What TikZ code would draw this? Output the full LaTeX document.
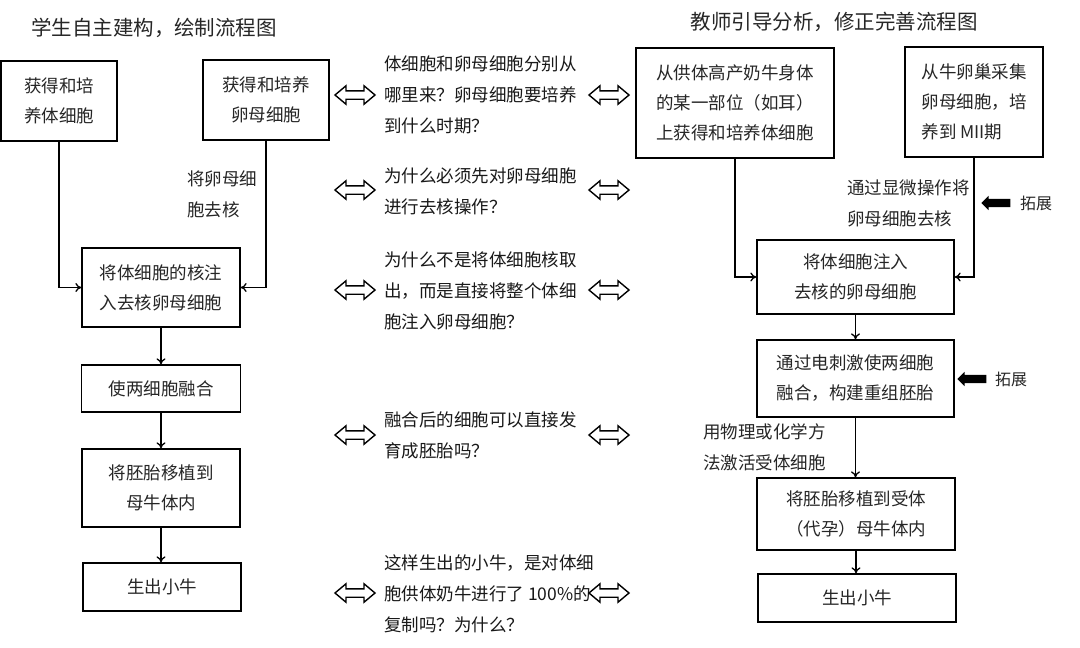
\documentclass[tikz,border=0pt]{standalone}
\usepackage{fontspec}
\setmainfont{Noto Sans CJK SC}
\usetikzlibrary{arrows.meta,shapes.arrows}
\begin{document}
\begin{tikzpicture}[x=1pt,y=-1pt,
  box/.style={draw, line width=1.3pt, align=center, inner sep=0pt,
     font=\fontsize{17.5}{30}\selectfont, text=black!85},
  lbl/.style={align=left, inner sep=0pt, font=\fontsize{17.5}{31}\selectfont, text=black!85},
  qtext/.style={align=left, inner sep=0pt, font=\fontsize{17.5}{31}\selectfont, text=black!90},
  ttl/.style={inner sep=0pt, font=\fontsize{20.5}{24}\selectfont, text=black!85},
  arr/.style={line width=1.3pt, -{To[length=6pt,width=9pt]}},
  dbl/.style={double arrow, draw, line width=1.4pt, minimum height=40pt,
     inner xsep=0pt, inner ysep=3.5pt, double arrow head extend=5pt,
     double arrow tip angle=80},
  ext/.style={single arrow, fill=black, shape border rotate=180, minimum height=29pt,
     inner xsep=0pt, inner ysep=4pt, single arrow head extend=3pt},
  extl/.style={inner sep=0pt, font=\fontsize{16}{18}\selectfont, text=black!85}]
\useasboundingbox[fill=white] (0,0) rectangle (1080,648);

% titles
\node[ttl] (t1) at (154,28) {学生自主建构，绘制流程图};
\node[ttl] (t2) at (834,22) {教师引导分析，修正完善流程图};

% left flow
\node[box, minimum width=116pt, minimum height=80pt] (A) at (59,101) {获得和培\\养体细胞};
\node[box, minimum width=126pt, minimum height=80pt] (B) at (266,100) {获得和培养\\卵母细胞};
\node[box, minimum width=158pt, minimum height=79pt] (C) at (161,287.5) {将体细胞的核注\\入去核卵母细胞};
\node[box, minimum width=159pt, minimum height=47pt] (D) at (161,388.5) {使两细胞融合};
\node[box, minimum width=158pt, minimum height=78pt] (E) at (161,488) {将胚胎移植到\\母牛体内};
\node[box, minimum width=158pt, minimum height=48pt] (F) at (162,587) {生出小牛};
\node[lbl, anchor=west] (la) at (187,194) {将卵母细\\胞去核};

\draw[arr] (A.south) |- (C.west);
\draw[arr] (B.south) |- (C.east);
\draw[arr] (C.south) -- (C.south |- D.north);
\draw[arr] (D.south) -- (D.south |- E.north);
\draw[arr] (E.south) -- (E.south |- F.north);

% questions
\node[qtext, anchor=west] (q1) at (384,95) {体细胞和卵母细胞分别从\\哪里来？卵母细胞要培养\\到什么时期？};
\node[qtext, anchor=west] (q2) at (384,191) {为什么必须先对卵母细胞\\进行去核操作？};
\node[qtext, anchor=west] (q3) at (384,291) {为什么不是将体细胞核取\\出，而是直接将整个体细\\胞注入卵母细胞？};
\node[qtext, anchor=west] (q4) at (384,435.5) {融合后的细胞可以直接发\\育成胚胎吗？};
\node[qtext, anchor=west] (q5) at (384,594) {这样生出的小牛，是对体细\\胞供体奶牛进行了 100\%的\\复制吗？为什么？};

\foreach \n/\y in {1/95,2/190,3/290,4/435,5/593}{
  \node[dbl] (dl\n) at (355,\y) {};
  \node[dbl] (dr\n) at (609,\y) {};
}

% right flow
\node[box, minimum width=198pt, minimum height=110pt] (G) at (735,103) {从供体高产奶牛身体\\的某一部位（如耳）\\上获得和培养体细胞};
\node[box, align=left, minimum width=138pt, minimum height=110pt] (H) at (974,102) {从牛卵巢采集\\卵母细胞，培\\养到 MII期};
\node[box, minimum width=197pt, minimum height=74pt] (I) at (855.5,277) {将体细胞注入\\去核的卵母细胞};
\node[box, minimum width=197pt, minimum height=77pt] (J) at (855.5,378.5) {通过电刺激使两细胞\\融合，构建重组胚胎};
\node[box, minimum width=198pt, minimum height=72pt] (K) at (856,514) {将胚胎移植到受体\\（代孕）母牛体内};
\node[box, minimum width=198pt, minimum height=48pt] (L) at (857,598) {生出小牛};
\node[lbl, anchor=west] (lb) at (847,203) {通过显微操作将\\卵母细胞去核};
\node[lbl, anchor=west] (lc) at (703,447) {用物理或化学方\\法激活受体细胞};

\draw[arr] (G.south) |- (I.west);
\draw[arr] (H.south) |- (I.east);
\draw[arr] (I.south) -- (I.south |- J.north);
\draw[arr] (J.south) -- (J.south |- K.north);
\draw[arr] (K.south) -- (K.south |- L.north);

\node[ext] (x1) at (998,203) {};
\node[extl, anchor=west] (x1l) at (1020,203) {拓展};
\node[ext] (x2) at (974,379) {};
\node[extl, anchor=west] (x2l) at (995,379) {拓展};
\end{tikzpicture}
\end{document}
